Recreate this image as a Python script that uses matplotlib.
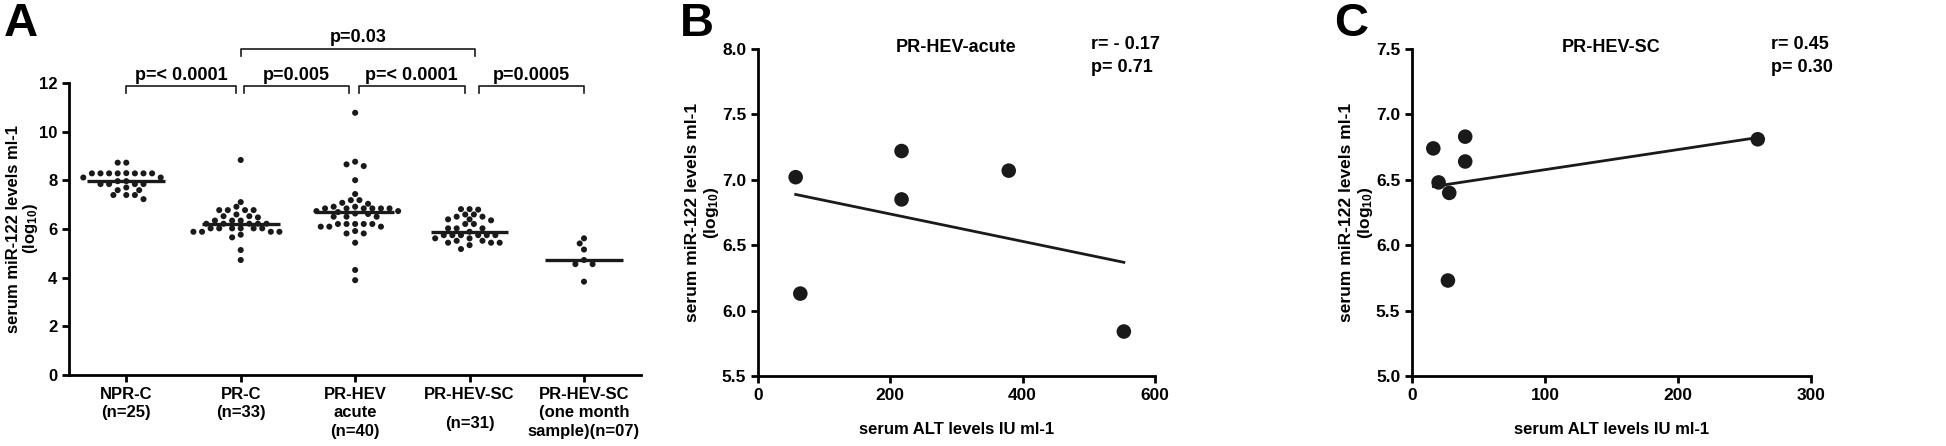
import matplotlib
matplotlib.use("Agg")
import matplotlib.pyplot as plt
import numpy as np

narrow = ['Liberation Sans Narrow', 'Liberation Sans', 'DejaVu Sans']
wide = ['Liberation Sans', 'DejaVu Sans']
plt.rcParams['font.family'] = narrow
plt.rcParams['font.weight'] = 'bold'
plt.rcParams['mathtext.default'] = 'regular'

# panel A: serum miR-122 per group (log10)
groups = ["NPR-C\n(n=25)", "PR-C\n(n=33)", "PR-HEV\nacute\n(n=40)",
          "PR-HEV-SC\n(n=31)", "PR-HEV-SC\n(one month\nsample)(n=07)"]
npr_c = [8.73, 8.73, 8.29, 8.29, 8.29, 8.29, 8.30, 8.29, 8.29, 8.29, 8.12, 8.12,
         7.97, 7.97, 7.85, 7.85, 7.85, 7.85, 7.71, 7.60, 7.60, 7.40, 7.40, 7.40, 7.23]
pr_c = [8.84, 7.11, 6.92, 6.78, 6.78, 6.78, 6.78, 6.60, 6.53, 6.53, 6.48,
        6.35, 6.35, 6.35, 6.22, 6.22, 6.22, 6.22, 6.22,
        6.03, 6.03, 6.03, 6.03, 6.03, 6.03, 5.89, 5.89, 5.89, 5.89, 5.77, 5.66, 5.14, 4.73]
pr_hev_acute = [10.78, 8.77, 8.66, 8.59, 8.01, 7.44, 7.19, 7.19, 7.08, 7.04, 6.92, 6.92,
                6.85, 6.85, 6.85, 6.85, 6.85, 6.85, 6.74, 6.74, 6.70, 6.64, 6.62,
                6.51, 6.51, 6.51, 6.21, 6.21, 6.21, 6.21, 6.21, 6.10, 6.10, 6.10,
                5.92, 5.82, 5.82, 5.44, 4.32, 3.90]
pr_hev_sc = [6.82, 6.82, 6.80, 6.60, 6.60, 6.51, 6.51, 6.40, 6.40, 6.36, 6.21, 6.21,
             6.03, 6.03, 6.03, 5.89, 5.75, 5.75, 5.75, 5.75, 5.75, 5.75, 5.62, 5.62,
             5.52, 5.52, 5.44, 5.44, 5.44, 5.34, 5.18]
pr_hev_sc_1m = [5.62, 5.41, 5.16, 4.73, 4.56, 4.56, 3.84]
group_vals = [npr_c, pr_c, pr_hev_acute, pr_hev_sc, pr_hev_sc_1m]

comparisons = [(0, 1, "p=< 0.0001"), (1, 2, "p=0.005"), (2, 3, "p=< 0.0001"),
               (3, 4, "p=0.0005")]
top_comparison = (1, 3, "p=0.03")

# panel B: PR-HEV acute, ALT vs miR-122
alt_acute = [57, 64, 217, 217, 379, 553]
mir_acute = [7.02, 6.13, 7.22, 6.85, 7.07, 5.84]
# panel C: PR-HEV-SC
alt_sc = [16, 20, 28, 27, 40, 40, 260]
mir_sc = [6.74, 6.48, 6.40, 5.73, 6.83, 6.64, 6.81]

ylab = "serum miR-122 levels ml-1\n(log$_{10}$)"
ink = "#1a1a1a"


def swarm(vals, xpx, ypx, diam, step):
    # simple beeswarm: nearest free horizontal slot for each point
    vals = np.asarray(vals, dtype=float)
    offs = np.zeros(len(vals))
    placed = []
    cands = [0.0] + [s * j * step for j in range(1, 40) for s in (-1, 1)]
    for i in np.argsort(-vals):
        y = vals[i]
        for c in cands:
            if all(((c - px) * xpx) ** 2 + ((y - py) * ypx) ** 2 >= diam ** 2 for px, py in placed):
                break
        placed.append((c, y))
        offs[i] = c
    return offs


def style(ax, size, fam):
    for s in ['top', 'right']:
        ax.spines[s].set_visible(False)
    for s in ['left', 'bottom']:
        ax.spines[s].set_linewidth(2.0)
    ax.tick_params(width=2.0, length=5, labelsize=size, colors='black')
    for lab in ax.get_xticklabels() + ax.get_yticklabels():
        lab.set_fontweight('bold')
        lab.set_family(fam)


fig = plt.figure(figsize=(19.46, 4.46), dpi=100)

# ---------------- A
axA = fig.add_axes([0.0355, 0.159, 0.294, 0.6547])
xpx = 0.294 * 1946 / 5.0
ypx = 0.6547 * 446 / 12.0
for i, vals in enumerate(group_vals):
    offs = swarm(vals, xpx, ypx, 6.2, 4.3 / xpx)
    axA.scatter(i + offs, vals, s=19, color=ink, edgecolors='none', zorder=3)
    axA.hlines(np.median(vals), i - 0.34, i + 0.34, color=ink, lw=2.4, zorder=4)
axA.set_xlim(-0.5, 4.5)
axA.set_ylim(0, 12)
axA.set_yticks(range(0, 13, 2))
axA.set_xticks(range(len(groups)))
axA.set_xticklabels(groups, linespacing=1.3)
style(axA, 12, narrow)
axA.get_xticklabels()[3].set_linespacing(2.2)
axA.set_ylabel(ylab, fontsize=12, fontweight='bold', family=wide, linespacing=1.0)
axA.yaxis.set_label_coords(-0.05, 0.5)


def bracket(ax, x0, x1, y, h, txt):
    ax.plot([x0, x0, x1, x1], [y - h, y, y, y - h], color=ink, lw=1.2, clip_on=False)
    ax.text((x0 + x1) / 2, y + 0.1, txt, ha='center', va='bottom', fontsize=13,
            fontweight='bold')


gaps = [(0.0, -0.04), (0.03, -0.05), (0.03, -0.04), (0.08, 0.0)]
for (a, b, txt), (g0, g1) in zip(comparisons, gaps):
    bracket(axA, a + g0, b + g1, 11.88, 0.3, txt)
bracket(axA, top_comparison[0], top_comparison[1] + 0.05, 13.42, 0.3, top_comparison[2])
fig.text(0.002, 0.995, "A", fontsize=34, fontweight='bold', va='top', ha='left', family=wide)

# ---------------- B and C
panels = [
    ("B", [0.3895, 0.157, 0.204, 0.7331], alt_acute, mir_acute, "PR-HEV-acute",
     "r= - 0.17\np= 0.71", (0, 600), range(0, 601, 200), (5.5, 8.0), 0.84),
    ("C", [0.7256, 0.157, 0.205, 0.7331], alt_sc, mir_sc, "PR-HEV-SC",
     "r= 0.45\np= 0.30", (0, 300), range(0, 301, 100), (5.0, 7.5), 0.90),
]
for letter, rect, xs, ys, title, stat, xl, xt, yl, sx in panels:
    ax = fig.add_axes(rect)
    ax.scatter(xs, ys, s=110, color=ink, edgecolors='none', zorder=3)
    k, b = np.polyfit(xs, ys, 1)
    xx = np.array([min(xs), max(xs)])
    ax.plot(xx, k * xx + b, color=ink, lw=2.0)
    ax.set_xlim(*xl)
    ax.set_ylim(*yl)
    ax.set_xticks(list(xt))
    ax.set_yticks(np.arange(yl[0], yl[1] + 0.01, 0.5))
    ax.set_yticklabels([f"{v:.1f}" for v in np.arange(yl[0], yl[1] + 0.01, 0.5)])
    ax.set_xlabel("serum ALT levels IU ml-1", fontsize=12, fontweight='bold',
                  labelpad=14, family=wide)
    ax.set_ylabel(ylab, fontsize=12.5, fontweight='bold', family=wide)
    ax.yaxis.set_label_coords(-0.092, 0.5)
    ax.text(0.5, 1.005, title, transform=ax.transAxes, ha='center', va='center',
            fontsize=13, fontweight='bold')
    ax.text(sx, 1.04, stat, transform=ax.transAxes, ha='left', va='top',
            fontsize=13, fontweight='bold', linespacing=1.45)
    style(ax, 12.5, narrow)
    fig.text(rect[0] - 0.040, 0.995, letter, fontsize=34, fontweight='bold',
             va='top', ha='left', family=wide)

fig.savefig("out.png", dpi=100, facecolor='white')
